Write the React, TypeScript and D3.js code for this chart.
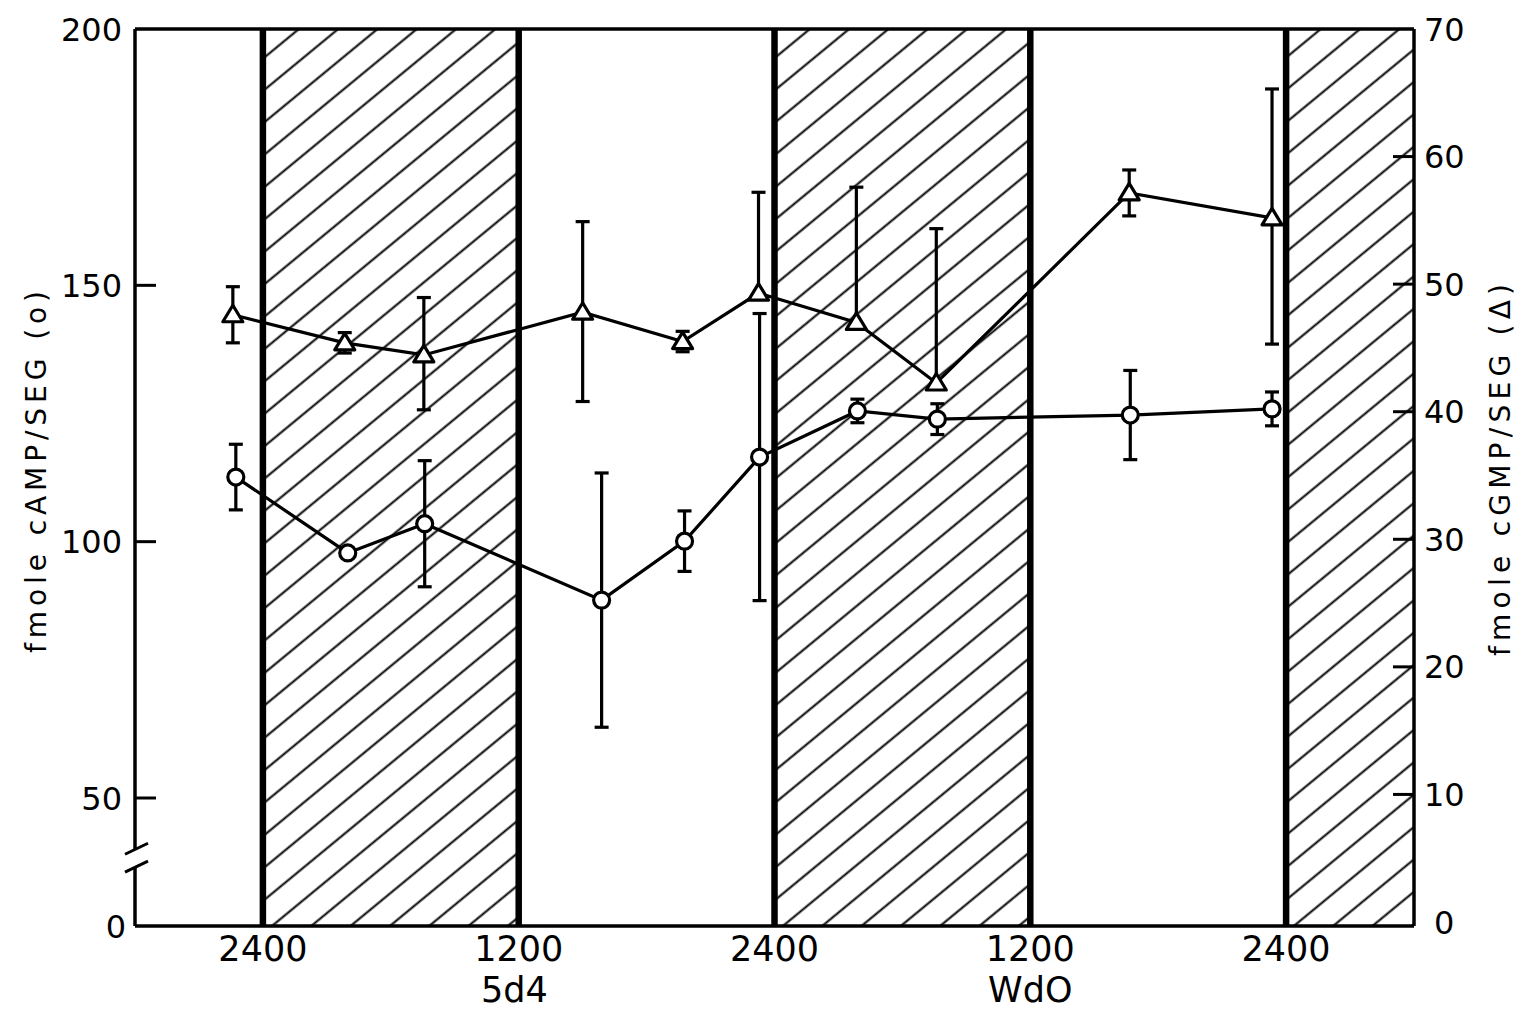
import React from "react";
import * as d3 from "d3";

// ---------- data ----------
const xTickHours = [24, 36, 48, 60, 72];
const xTickLabels = ["2400", "1200", "2400", "1200", "2400"];
const dayLabels = ["5d4", "WdO"];
const dayLabelHours = [35.8, 60];
const darkStarts = [24, 48, 72];
const darkEnds = [36, 60, 78];

// cGMP (triangles, right axis)
const cgmpHours = [22.59, 27.84, 31.55, 39.0, 43.69, 47.25, 51.84, 55.59, 64.64, 71.34];
const cgmpValues = [47.6, 45.4, 44.45, 47.8, 45.5, 49.3, 47.0, 42.25, 57.15, 55.2];
const cgmpErrUp = [2.2, 0.8, 4.5, 7.1, 0.8, 7.9, 10.6, 12.1, 1.8, 10.1];
const cgmpErrDown = [2.2, 0.8, 4.3, 7.0, 0.8, 0, 0, 0, 1.8, 9.9];

// cAMP (circles, left axis)
const campHours = [22.73, 27.98, 31.59, 39.89, 43.78, 47.3, 51.89, 55.64, 64.69, 71.34];
const campValues = [112.6, 97.8, 103.5, 88.6, 100.1, 116.5, 125.5, 123.9, 124.7, 125.9];
const campErr = [6.4, 0.6, 12.3, 24.8, 5.9, 28, 2.3, 3.0, 8.7, 3.3];

const leftTicks = [200, 150, 100, 50];
const leftZeroLabel = "0";
const rightTicks = [70, 60, 50, 40, 30, 20, 10, 0];

const leftTitle = "fmole cAMP/SEG (o)";
const rightTitle = "fmole cGMP/SEG (Δ)";

// ---------- layout ----------
const W = 1518;
const H = 1012;
const L = 135;
const R = 1414;
const T = 29;
const B = 926;

const FONT = "'DejaVu Sans', Verdana, sans-serif";

export default function App() {
  const x = d3.scaleLinear().domain([18, 78]).range([L, R]);
  const yL = d3.scaleLinear().domain([50, 200]).range([798, T]);
  const yR = d3.scaleLinear().domain([0, 70]).range([922, T]);

  const campPts = campHours.map((h, i) => [x(h), yL(campValues[i])] as [number, number]);
  const cgmpPts = cgmpHours.map((h, i) => [x(h), yR(cgmpValues[i])] as [number, number]);
  const line = d3.line<[number, number]>();

  const breakTop = yL(40);
  const breakBot = yL(36.5);

  const cap = 7;
  const tri = "M0,-9.5 L10,7 L-10,7 Z";

  return (
    <svg
      width={W}
      height={H}
      viewBox={`0 0 ${W} ${H}`}
      style={{ position: "absolute", left: 0, top: 0, background: "#fff" }}
    >
      <defs>
        <pattern
          id="hatch"
          patternUnits="userSpaceOnUse"
          width={40}
          height={25}
          patternTransform="rotate(-39.5)"
        >
          <line x1={0} y1={12.5} x2={40} y2={12.5} stroke="#000" strokeWidth={2} />
        </pattern>
      </defs>
      <rect x={0} y={0} width={W} height={H} fill="#fff" />

      {/* dark periods */}
      {darkStarts.map((s, i) => (
        <rect
          key={"d" + i}
          x={x(s)}
          y={T}
          width={x(darkEnds[i]) - x(s)}
          height={B - T}
          fill="url(#hatch)"
        />
      ))}

      {/* thick vertical lines */}
      {xTickHours.map((h, i) => (
        <line key={"v" + i} x1={x(h)} x2={x(h)} y1={T} y2={B} stroke="#000" strokeWidth={6.5} />
      ))}

      {/* frame */}
      <line x1={L} x2={R} y1={T} y2={T} stroke="#000" strokeWidth={3.5} />
      <line x1={L} x2={R} y1={B} y2={B} stroke="#000" strokeWidth={3.5} />
      <line x1={R} x2={R} y1={T} y2={B} stroke="#000" strokeWidth={3.5} />
      <line x1={L} x2={L} y1={T} y2={breakTop} stroke="#000" strokeWidth={3.5} />
      <line x1={L} x2={L} y1={breakBot} y2={B} stroke="#000" strokeWidth={3.5} />
      {/* axis break marks */}
      <line x1={L - 10} x2={L + 13} y1={breakTop + 5} y2={breakTop - 6} stroke="#000" strokeWidth={3} />
      <line x1={L - 10} x2={L + 13} y1={breakBot + 5} y2={breakBot - 6} stroke="#000" strokeWidth={3} />

      {/* left ticks */}
      {leftTicks.map((t) => (
        <g key={"lt" + t}>
          {t !== 200 && (
            <line x1={L} x2={L + 21} y1={yL(t)} y2={yL(t)} stroke="#000" strokeWidth={3} />
          )}
          <text
            x={122}
            y={yL(t)}
            dy="0.36em"
            textAnchor="end"
            fontFamily={FONT}
            fontSize={32}
            fill="#000"
          >
            {t}
          </text>
        </g>
      ))}
      <text x={126} y={B} dy="0.36em" textAnchor="end" fontFamily={FONT} fontSize={32} fill="#000">
        {leftZeroLabel}
      </text>

      {/* right ticks */}
      {rightTicks.map((t) => (
        <g key={"rt" + t}>
          {t !== 0 && t !== 70 && (
            <line x1={R - 21} x2={R} y1={yR(t)} y2={yR(t)} stroke="#000" strokeWidth={3} />
          )}
          <text
            x={t === 0 ? 1434 : 1424}
            y={yR(t)}
            dy="0.36em"
            textAnchor="start"
            fontFamily={FONT}
            fontSize={32}
            fill="#000"
          >
            {t}
          </text>
        </g>
      ))}

      {/* x tick labels */}
      {xTickHours.map((h, i) => (
        <text
          key={"xl" + i}
          x={x(h)}
          y={961}
          textAnchor="middle"
          fontFamily={FONT}
          fontSize={35}
          fill="#000"
        >
          {xTickLabels[i]}
        </text>
      ))}
      {dayLabels.map((d, i) => (
        <text
          key={"dl" + i}
          x={x(dayLabelHours[i])}
          y={1002}
          textAnchor="middle"
          fontFamily={FONT}
          fontSize={35}
          fill="#000"
        >
          {d}
        </text>
      ))}

      {/* axis titles */}
      <text
        transform={`translate(46,${472}) rotate(-90)`}
        textAnchor="middle"
        fontFamily={FONT}
        fontSize={28}
        textLength={362}
        lengthAdjust="spacing"
        fill="#000"
      >
        {leftTitle}
      </text>
      <text
        transform={`translate(1510,${470}) rotate(-90)`}
        textAnchor="middle"
        fontFamily={FONT}
        fontSize={28}
        textLength={372}
        lengthAdjust="spacing"
        fill="#000"
      >
        {rightTitle}
      </text>

      {/* error bars cAMP */}
      {campHours.map((h, i) => {
        const cx = x(h);
        const y1 = yL(campValues[i] + campErr[i]);
        const y2 = yL(campValues[i] - campErr[i]);
        return (
          <g key={"ce" + i} stroke="#000" strokeWidth={3.2}>
            <line x1={cx} x2={cx} y1={y1} y2={y2} />
            <line x1={cx - cap} x2={cx + cap} y1={y1} y2={y1} />
            <line x1={cx - cap} x2={cx + cap} y1={y2} y2={y2} />
          </g>
        );
      })}
      {/* error bars cGMP */}
      {cgmpHours.map((h, i) => {
        const cx = x(h);
        const cy = yR(cgmpValues[i]);
        const y1 = yR(cgmpValues[i] + cgmpErrUp[i]);
        const y2 = yR(cgmpValues[i] - cgmpErrDown[i]);
        return (
          <g key={"ge" + i} stroke="#000" strokeWidth={3.2}>
            <line x1={cx} x2={cx} y1={y1} y2={cy} />
            <line x1={cx - cap} x2={cx + cap} y1={y1} y2={y1} />
            {cgmpErrDown[i] > 0 && (
              <>
                <line x1={cx} x2={cx} y1={cy} y2={y2} />
                <line x1={cx - cap} x2={cx + cap} y1={y2} y2={y2} />
              </>
            )}
          </g>
        );
      })}

      {/* lines */}
      <path d={line(campPts) || ""} fill="none" stroke="#000" strokeWidth={3.2} />
      <path d={line(cgmpPts) || ""} fill="none" stroke="#000" strokeWidth={3.2} />

      {/* markers */}
      {campPts.map(([px, py], i) => (
        <circle key={"cm" + i} cx={px} cy={py} r={8} fill="#fff" stroke="#000" strokeWidth={3.2} />
      ))}
      {cgmpPts.map(([px, py], i) => (
        <path
          key={"gm" + i}
          d={tri}
          transform={`translate(${px},${py})`}
          fill="#fff"
          stroke="#000"
          strokeWidth={3.2}
          strokeLinejoin="round"
        />
      ))}
    </svg>
  );
}
